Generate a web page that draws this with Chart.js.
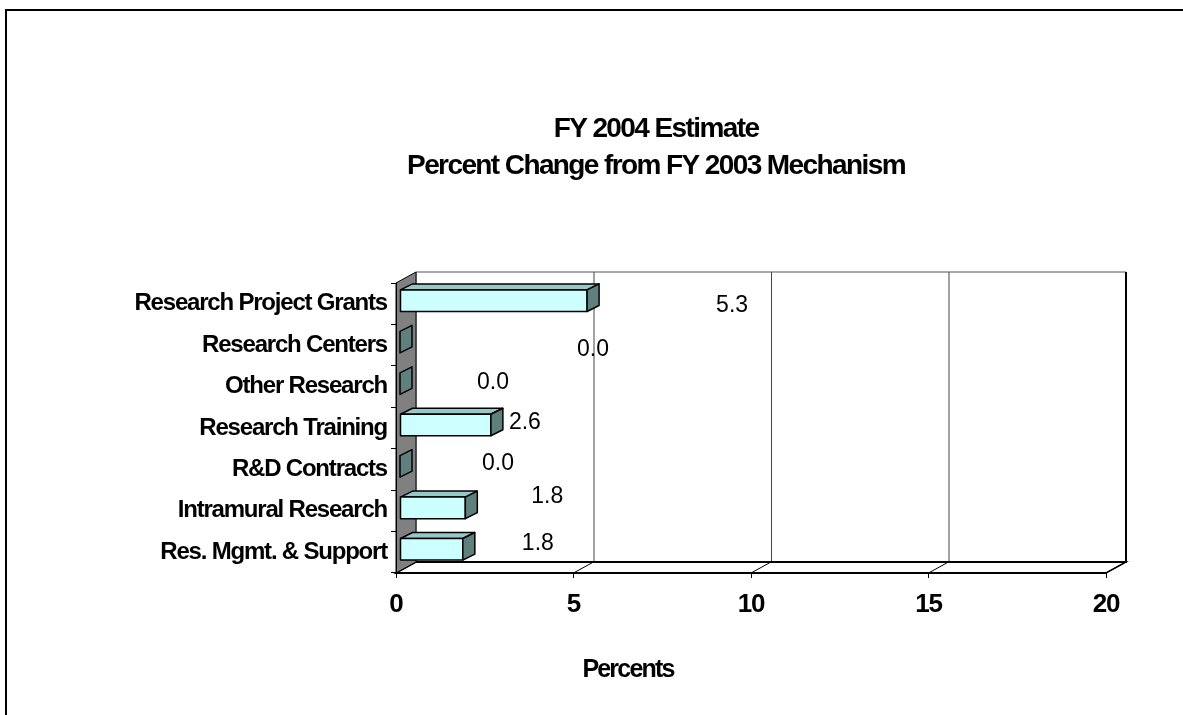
<!DOCTYPE html>
<html>
<head>
<meta charset="utf-8">
<script src="https://cdn.jsdelivr.net/npm/chart.js@4.4.1/dist/chart.umd.min.js"></script>
<style>
  html, body { margin: 0; padding: 0; background: #fff; }
  .chart-container { position: relative; width: 1183px; height: 715px; }
</style>
</head>
<body>
<div class="chart-container"><canvas id="chart"></canvas></div>
<script>
// data
const categories = [
  'Research Project Grants',
  'Research Centers',
  'Other Research',
  'Research Training',
  'R&D Contracts',
  'Intramural Research',
  'Res. Mgmt. & Support',
]
const percentChange = [5.27, 0, 0, 2.56, 0, 1.84, 1.77]
const xTickValues = [0, 5, 10, 15, 20]
const titleLines = ['FY 2004 Estimate', 'Percent Change from FY 2003 Mechanism']
const xAxisTitle = 'Percents'

const FONT = "'Liberation Sans', Arial, sans-serif"

// fake 3d: depth of the walls and of the bars (px)
const WALL_DX = 20
const WALL_DY = 11
const BAR_DX = 12
const BAR_DY = 6
const BAR_SHIFT_X = 4
const BAR_SHIFT_Y = -3

// excel moved the value labels by hand, so each has its own nudge
const labelNudge = [
  [145, 2], [193, 5], [93, -4], [34, -5], [98, -6], [82, -14], [75, -9],
]

function poly(ctx, pts, fill, stroke, lw) {
  ctx.beginPath()
  ctx.moveTo(pts[0][0], pts[0][1])
  for (let i = 1; i < pts.length; i++) ctx.lineTo(pts[i][0], pts[i][1])
  ctx.closePath()
  if (fill) {
    ctx.fillStyle = fill
    ctx.fill()
  }
  if (stroke) {
    ctx.strokeStyle = stroke
    ctx.lineWidth = lw || 1
    ctx.stroke()
  }
}

const scene3d = {
  id: 'scene3d',
  beforeDraw(chart) {
    const ctx = chart.ctx
    const { left, right, top, bottom } = chart.chartArea
    const xs = chart.scales.x

    ctx.save()
    ctx.fillStyle = '#fff'
    ctx.fillRect(0, 0, chart.width, chart.height)

    // frame, only top and left show
    ctx.strokeStyle = '#000'
    ctx.lineWidth = 2
    ctx.beginPath()
    ctx.moveTo(6, chart.height)
    ctx.lineTo(6, 10)
    ctx.lineTo(chart.width, 10)
    ctx.stroke()

    // titles
    ctx.fillStyle = '#000'
    ctx.textAlign = 'center'
    ctx.textBaseline = 'middle'
    ctx.letterSpacing = '-1.6px'
    ctx.font = `bold 28px ${FONT}`
    ctx.fillText(titleLines[0], 656, 129)
    ctx.fillText(titleLines[1], 656, 166)
    ctx.letterSpacing = '-1.8px'
    ctx.font = `bold 25px ${FONT}`
    ctx.fillText(xAxisTitle, 628, 670)

    // back wall
    poly(ctx, [
      [left + WALL_DX, top - WALL_DY], [right + WALL_DX, top - WALL_DY],
      [right + WALL_DX, bottom - WALL_DY], [left + WALL_DX, bottom - WALL_DY],
    ], '#fff', '#555', 1)

    // floor
    poly(ctx, [
      [left, bottom], [right, bottom],
      [right + WALL_DX, bottom - WALL_DY], [left + WALL_DX, bottom - WALL_DY],
    ], '#fff', '#000', 1.5)

    // gridlines on floor + back wall
    xTickValues.forEach((v) => {
      const px = xs.getPixelForValue(v)
      ctx.strokeStyle = '#000'
      ctx.lineWidth = 1
      ctx.beginPath()
      ctx.moveTo(px, bottom)
      ctx.lineTo(px + WALL_DX, bottom - WALL_DY)
      ctx.stroke()
      if (v > 0) {
        ctx.strokeStyle = '#444'
        ctx.beginPath()
        ctx.moveTo(px + WALL_DX + 0.5, bottom - WALL_DY)
        ctx.lineTo(px + WALL_DX + 0.5, top - WALL_DY)
        ctx.stroke()
      }
    })
    ctx.strokeStyle = '#000'
    ctx.lineWidth = 2
    ctx.beginPath()
    ctx.moveTo(left + WALL_DX, bottom - WALL_DY)
    ctx.lineTo(right + WALL_DX, bottom - WALL_DY)
    ctx.lineTo(right + WALL_DX, top - WALL_DY)
    ctx.stroke()

    // grey side wall
    poly(ctx, [
      [left, top], [left + WALL_DX, top - WALL_DY],
      [left + WALL_DX, bottom - WALL_DY], [left, bottom],
    ], '#808080', '#000', 1)
    ctx.restore()

    // condensed look for the axis labels chart.js draws next
    ctx.letterSpacing = '-1.2px'
  },
  afterDatasetsDraw(chart) {
    const ctx = chart.ctx
    const meta = chart.getDatasetMeta(0)
    ctx.save()
    ctx.letterSpacing = '0px'
    ctx.lineJoin = 'round'
    meta.data.forEach((bar, i) => {
      const { x, y, base, height } = bar.getProps(['x', 'y', 'base', 'height'], true)
      const x0 = base + BAR_SHIFT_X
      const x1 = x + BAR_SHIFT_X
      const yt = y - height / 2 + BAR_SHIFT_Y
      const yb = y + height / 2 + BAR_SHIFT_Y
      if (x1 > x0) {
        // top, then front
        poly(ctx, [[x0, yt], [x1, yt], [x1 + BAR_DX, yt - BAR_DY], [x0 + BAR_DX, yt - BAR_DY]], '#96C8C8', '#000', 1.5)
        poly(ctx, [[x0, yt], [x1, yt], [x1, yb], [x0, yb]], '#CCFFFF', '#000', 1.5)
      }
      // end cap
      poly(ctx, [[x1, yt], [x1 + BAR_DX, yt - BAR_DY], [x1 + BAR_DX, yb - BAR_DY], [x1, yb]], '#5F807C', '#000', 1.5)

      // value label
      const [ndx, ndy] = labelNudge[i]
      ctx.fillStyle = '#000'
      ctx.font = `23px ${FONT}`
      ctx.textAlign = 'center'
      ctx.textBaseline = 'middle'
      ctx.fillText(percentChange[i].toFixed(1), x1 + ndx, y + ndy)
    })
    ctx.restore()
  },
}

new Chart(document.getElementById('chart'), {
  type: 'bar',
  data: {
    labels: categories,
    datasets: [
      {
        data: percentChange,
        backgroundColor: 'rgba(0,0,0,0)',
        borderWidth: 0,
        categoryPercentage: 1,
        barPercentage: 0.52,
      },
    ],
  },
  options: {
    indexAxis: 'y',
    responsive: true,
    maintainAspectRatio: false,
    animation: false,
    layout: { padding: { left: 0, right: 77, top: 283, bottom: 0 } },
    plugins: {
      legend: { display: false },
      tooltip: { enabled: false },
      title: { display: false },
    },
    scales: {
      x: {
        type: 'linear',
        min: 0,
        max: 20,
        afterFit: (scale) => { scale.height = 715 - 573 },
        afterBuildTicks: (scale) => { scale.ticks = xTickValues.map((v) => ({ value: v })) },
        ticks: {
          color: '#000',
          font: { family: FONT, size: 26, weight: 'bold' },
          padding: 11,
        },
        grid: { drawOnChartArea: false, drawTicks: true, tickLength: 5, color: '#000' },
        border: { display: true, color: '#000', width: 2 },
      },
      y: {
        type: 'category',
        offset: true,
        afterFit: (scale) => { scale.width = 396 },
        ticks: {
          color: '#000',
          font: { family: FONT, size: 24, weight: 'bold' },
          padding: 4,
        },
        grid: { offset: true, drawOnChartArea: false, drawTicks: true, tickLength: 5, color: '#000' },
        border: { display: true, color: '#000', width: 1 },
      },
    },
  },
  plugins: [scene3d],
})
</script>
</body>
</html>
